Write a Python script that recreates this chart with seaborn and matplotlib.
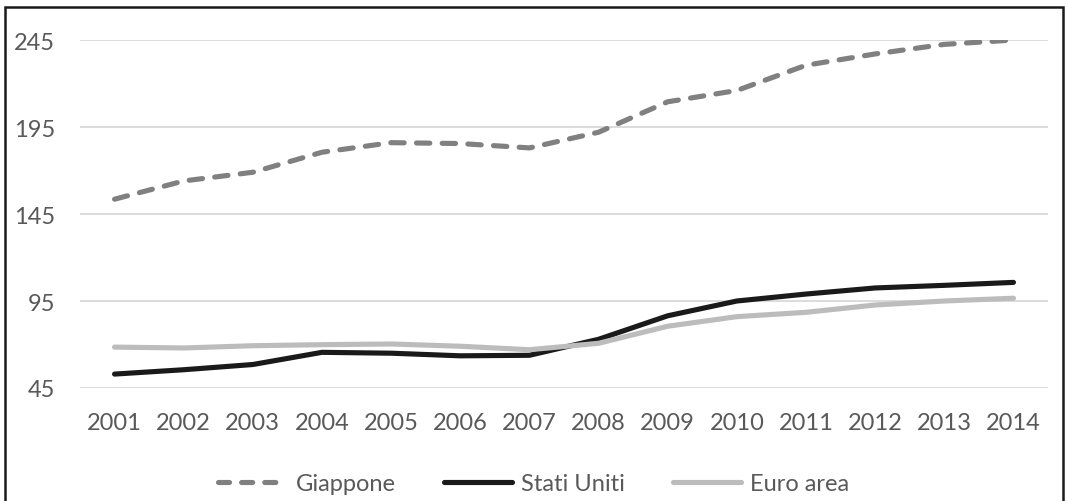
import matplotlib
matplotlib.use("Agg")
import matplotlib.pyplot as plt
import seaborn as sns
import pandas as pd
from matplotlib.patches import Rectangle
from matplotlib.lines import Line2D

years = list(range(2001, 2015))
giappone = [153.5, 164, 169, 180.5, 186, 185.5, 183, 192, 209.5, 216, 230.5, 237, 242.5, 245]
stati_uniti = [53, 55.5, 58.5, 65.5, 65, 63.5, 63.8, 73, 86.5, 95, 99, 102.5, 104, 105.7]
euro_area = [68.5, 68, 69.3, 69.9, 70.3, 69, 67, 70.7, 80.5, 86, 88.5, 92.7, 95, 96.6]
series_names = ["Giappone", "Stati Uniti", "Euro area"]
y_ticks = [45, 95, 145, 195, 245]

df = pd.DataFrame({
    "anno": years * 3,
    "valore": giappone + stati_uniti + euro_area,
    "serie": [series_names[0]] * len(years) + [series_names[1]] * len(years) + [series_names[2]] * len(years),
})

sns.set_theme(style="white")
plt.rcParams["font.family"] = ["Lato", "DejaVu Sans"]

text_color = "#595959"
palette = {"Giappone": "#808080", "Stati Uniti": "#1a1a1a", "Euro area": "#bcbcbc"}
dashes = {"Giappone": (2.6, 2.4), "Stati Uniti": "", "Euro area": ""}

fig = plt.figure(figsize=(10.68, 5.02), dpi=100)
ax = fig.add_axes([0.0749, 0.2251, 0.9064, 0.6932])

sns.lineplot(data=df, x="anno", y="valore", hue="serie", style="serie",
             palette=palette, dashes=dashes, hue_order=series_names,
             style_order=series_names, linewidth=3.7, ax=ax, legend=False)
for ln in ax.get_lines():
    ln.set_solid_capstyle("round")
    ln.set_dash_capstyle("round")
    ln.set_solid_joinstyle("round")

ax.set_xlim(2000.5, 2014.5)
ax.set_ylim(45, 245)
ax.set_yticks(y_ticks)
ax.set_xticks(years)
ax.set_xticklabels([str(y) for y in years])
ax.tick_params(axis="both", length=0, labelsize=17, colors=text_color)
ax.tick_params(axis="x", pad=17)
ax.tick_params(axis="y", pad=18)
ax.yaxis.grid(True, color="#d9d9d9", linewidth=1.3)
ax.xaxis.grid(False)
ax.set_axisbelow(True)
for s in ax.spines.values():
    s.set_visible(False)
ax.set_xlabel("")
ax.set_ylabel("")

handles = [
    Line2D([], [], color=palette["Giappone"], linewidth=3.7, linestyle=(0, (2.15, 2.35)),
           dash_capstyle="round"),
    Line2D([], [], color=palette["Stati Uniti"], linewidth=3.7, solid_capstyle="round"),
    Line2D([], [], color=palette["Euro area"], linewidth=3.7, solid_capstyle="round"),
]
leg = fig.legend(handles, series_names, loc="center", bbox_to_anchor=(0.5, 0.035),
                 ncol=3, frameon=False, fontsize=17, handlelength=2.9,
                 handletextpad=0.4, columnspacing=2.0, labelcolor=text_color)

fig.patches.append(Rectangle((0.0047, -0.05), 0.9906, 1.034, transform=fig.transFigure,
                             fill=False, edgecolor="#1a1a1a", linewidth=1.8))

fig.savefig("out.png", dpi=100)
